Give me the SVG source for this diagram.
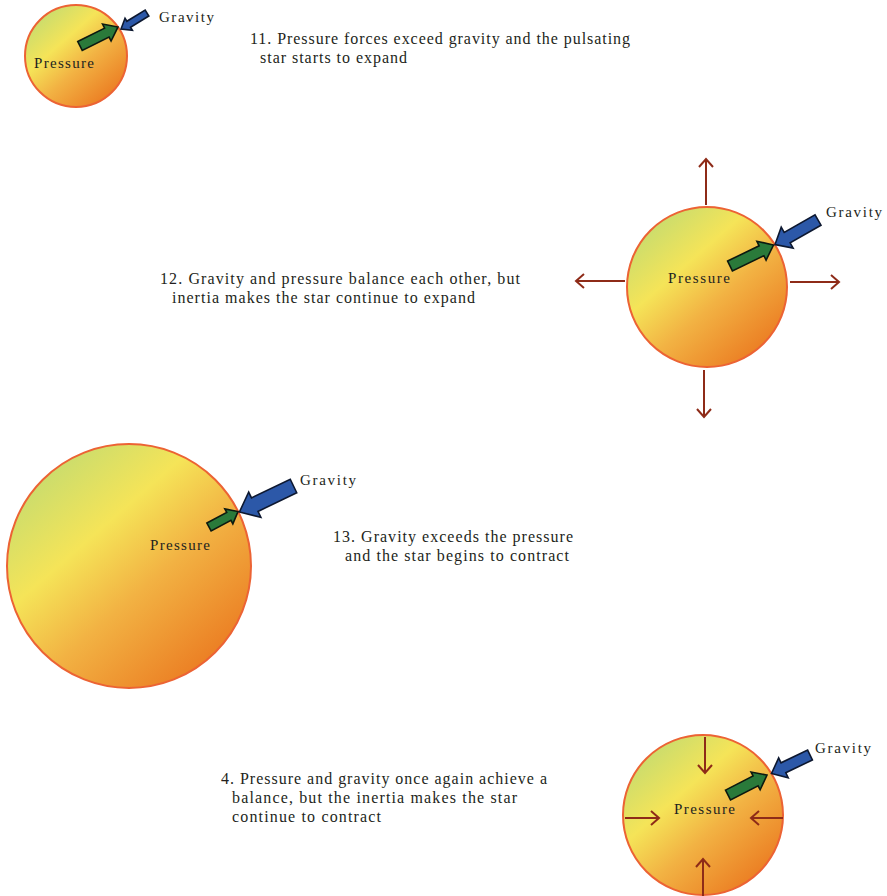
<svg xmlns="http://www.w3.org/2000/svg" width="887" height="896" viewBox="0 0 887 896">
  <style>
    .star { fill: url(#starFill); stroke: #ec6334; stroke-width: 2; }
    text { font-family: 'Liberation Serif', 'DejaVu Serif', serif; fill: #231f20; }
    .lbl { font-size: 15px; }
    .cap { font-size: 16px; }
    .push { fill: #2a7a3a; stroke: #0d1a10; stroke-width: 1.6; stroke-linejoin: miter; }
    .grav { fill: #2c58a8; stroke: #0d1830; stroke-width: 1.6; stroke-linejoin: miter; }
    .motion { stroke: #8e2b18; stroke-width: 2; fill: none; marker-end: url(#chev); }
  </style>
  <defs>
    <linearGradient id="starFill" x1="0.15" y1="0.1" x2="0.85" y2="0.9">
      <stop offset="0" stop-color="#c8dc6e"/>
      <stop offset="0.32" stop-color="#f5e458"/>
      <stop offset="0.6" stop-color="#f2b243"/>
      <stop offset="1" stop-color="#eb7c22"/>
    </linearGradient>
    <marker id="chev" markerUnits="userSpaceOnUse" viewBox="-10 -10 20 20" markerWidth="20" markerHeight="20" refX="0" refY="0" orient="auto">
      <path d="M-8,-7 L0,0 L-8,7" fill="none" stroke="#8e2b18" stroke-width="2"/>
    </marker>
  </defs>

  <!-- Stage 1: small star, pressure wins -->
  <g id="star1">
    <circle class="star" cx="76" cy="56" r="51"/>
    <text class="lbl" font-family="Liberation Serif, serif" x="34" y="68" textLength="60" lengthAdjust="spacing">Pressure</text>
    <path class="push" transform="translate(80,46) rotate(-26.6)" d="M0,-5 L30,-5 L30,-9.5 L42.5,0 L30,9.5 L30,5 L0,5 Z"/>
    <path class="grav" transform="translate(147,13) rotate(148.4)" d="M0,-3.5 L21.5,-3.5 L21.5,-7 L30.5,0 L21.5,7 L21.5,3.5 L0,3.5 Z"/>
    <text class="lbl" font-family="Liberation Serif, serif" x="159" y="22" textLength="55" lengthAdjust="spacing">Gravity</text>
  </g>
  <g id="caption1" font-family="Liberation Serif, serif">
    <text class="cap" x="250" y="44" textLength="380" lengthAdjust="spacing">11. Pressure forces exceed gravity and the pulsating</text>
    <text class="cap" x="260" y="63" textLength="147" lengthAdjust="spacing">star starts to expand</text>
  </g>

  <!-- Stage 2: balanced, still expanding -->
  <g id="star2">
    <circle class="star" cx="707" cy="287" r="80"/>
    <text class="lbl" x="668" y="283" textLength="62" lengthAdjust="spacing">Pressure</text>
    <path class="push" transform="translate(730,266) rotate(-25.8)" d="M0,-5.5 L35,-5.5 L35,-10.5 L48.3,0 L35,10.5 L35,5.5 L0,5.5 Z"/>
    <path class="grav" transform="translate(818,220) rotate(150.3)" d="M0,-6 L35.5,-6 L35.5,-12 L49.5,0 L35.5,12 L35.5,6 L0,6 Z"/>
    <text class="lbl" x="826" y="217" textLength="56" lengthAdjust="spacing">Gravity</text>
  </g>
  <g id="caption2">
    <text class="cap" x="160" y="284" textLength="360" lengthAdjust="spacing">12. Gravity and pressure balance each other, but</text>
    <text class="cap" x="172" y="303" textLength="303" lengthAdjust="spacing">inertia makes the star continue to expand</text>
  </g>

  <!-- Stage 3: large star, gravity wins -->
  <g id="star3">
    <circle class="star" cx="129" cy="566" r="122"/>
    <text class="lbl" x="150" y="550" textLength="60" lengthAdjust="spacing">Pressure</text>
    <path class="push" transform="translate(209,527) rotate(-28.1)" d="M0,-4.5 L22.5,-4.5 L22.5,-8.5 L32.9,0 L22.5,8.5 L22.5,4.5 L0,4.5 Z"/>
    <path class="grav" transform="translate(293.5,486) rotate(154.3)" d="M0,-7.5 L43,-7.5 L43,-14 L60,0 L43,14 L43,7.5 L0,7.5 Z"/>
    <text class="lbl" x="300" y="485" textLength="56" lengthAdjust="spacing">Gravity</text>
  </g>
  <g id="caption3">
    <text class="cap" x="333" y="542" textLength="240" lengthAdjust="spacing">13. Gravity exceeds the pressure</text>
    <text class="cap" x="345" y="561" textLength="224" lengthAdjust="spacing">and the star begins to contract</text>
  </g>

  <!-- Stage 4: balanced again, still contracting -->
  <g id="star4">
    <circle class="star" cx="703" cy="815" r="80"/>
    <text class="lbl" x="674" y="814" textLength="61" lengthAdjust="spacing">Pressure</text>
    <path class="push" transform="translate(728,795) rotate(-27.1)" d="M0,-5.5 L31,-5.5 L31,-10 L43.8,0 L31,10 L31,5.5 L0,5.5 Z"/>
    <path class="grav" transform="translate(810,755) rotate(154.3)" d="M0,-5.5 L29.5,-5.5 L29.5,-11 L42.7,0 L29.5,11 L29.5,5.5 L0,5.5 Z"/>
    <text class="lbl" x="815" y="753" textLength="56" lengthAdjust="spacing">Gravity</text>
  </g>
  <g id="caption4">
    <text class="cap" x="221" y="784" textLength="326" lengthAdjust="spacing">4. Pressure and gravity once again achieve a</text>
    <text class="cap" x="232" y="803" textLength="285" lengthAdjust="spacing">balance, but the inertia makes the star</text>
    <text class="cap" x="232" y="822" textLength="149" lengthAdjust="spacing">continue to contract</text>
  </g>

  <!-- Motion arrows: outward for expansion, inward for contraction -->
  <g id="connectors">
    <line class="motion" x1="706" y1="205" x2="706" y2="159"/>
    <line class="motion" x1="625" y1="281" x2="576" y2="281"/>
    <line class="motion" x1="790" y1="282" x2="839" y2="282"/>
    <line class="motion" x1="704" y1="370" x2="704" y2="417"/>
    <line class="motion" x1="705" y1="737" x2="705" y2="773"/>
    <line class="motion" x1="625" y1="818" x2="659" y2="818"/>
    <line class="motion" x1="783" y1="818" x2="751" y2="818"/>
    <line class="motion" x1="703" y1="896" x2="703" y2="859"/>
  </g>
</svg>
